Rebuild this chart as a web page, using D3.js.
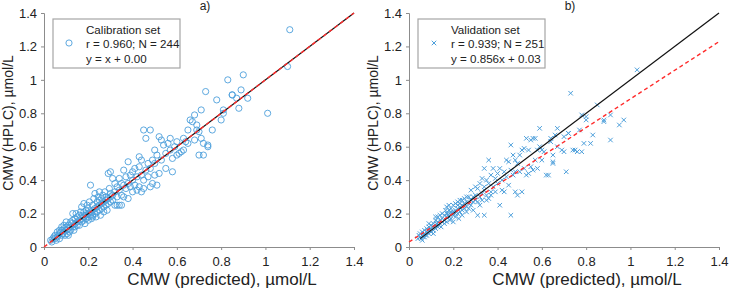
<!DOCTYPE html>
<html>
<head>
<meta charset="utf-8">
<script src="https://cdn.jsdelivr.net/npm/d3@7"></script>
<style>
  body { margin: 0; background: #fff; }
  svg { display: block; font-family: "Liberation Sans", Arial, sans-serif; }
</style>
</head>
<body>
<div id="chart"></div>
<script>
var WD = 730, HT = 291

// calibration set (predicted, HPLC)
var calibration = [
  [0.03,0.04],[0.035,0.03],[0.04,0.05],[0.045,0.06],[0.05,0.05],[0.05,0.07],[0.055,0.04],[0.06,0.06],[0.06,0.09],[0.065,0.07],
  [0.07,0.08],[0.07,0.05],[0.075,0.09],[0.08,0.07],[0.08,0.10],[0.085,0.08],[0.09,0.11],[0.09,0.09],[0.095,0.07],[0.10,0.12],
  [0.10,0.10],[0.10,0.15],[0.105,0.08],[0.11,0.11],[0.11,0.13],[0.115,0.09],[0.12,0.12],[0.12,0.15],[0.12,0.10],[0.125,0.14],
  [0.13,0.12],[0.13,0.16],[0.13,0.20],[0.135,0.10],[0.14,0.14],[0.14,0.17],[0.14,0.12],[0.145,0.20],[0.15,0.15],[0.15,0.13],
  [0.15,0.18],[0.08,0.12],[0.07,0.10],[0.11,0.07],[0.09,0.13],
  [0.16,0.16],[0.16,0.19],[0.16,0.13],[0.165,0.21],[0.17,0.17],[0.17,0.15],[0.17,0.24],[0.175,0.19],[0.18,0.18],[0.18,0.21],
  [0.18,0.16],[0.18,0.26],[0.185,0.14],[0.19,0.19],[0.19,0.22],[0.19,0.17],[0.195,0.25],[0.20,0.20],[0.20,0.18],[0.20,0.23],
  [0.20,0.16],[0.205,0.27],[0.21,0.21],[0.21,0.19],[0.21,0.37],[0.215,0.17],[0.22,0.22],[0.22,0.19],[0.22,0.25],[0.22,0.18],
  [0.225,0.29],[0.23,0.23],[0.23,0.20],[0.23,0.32],[0.235,0.18],[0.24,0.24],[0.24,0.21],[0.24,0.27],[0.245,0.30],[0.25,0.25],
  [0.25,0.22],[0.25,0.33],[0.255,0.19],[0.26,0.26],[0.26,0.23],[0.26,0.29],[0.265,0.31],[0.27,0.27],[0.27,0.24],[0.27,0.21],
  [0.275,0.33],[0.28,0.28],[0.28,0.25],[0.28,0.30],[0.285,0.22],[0.29,0.29],[0.29,0.26],[0.29,0.44],[0.295,0.35],[0.30,0.30],
  [0.30,0.27],[0.30,0.45],[0.30,0.32],[0.25,0.28],[0.19,0.20],
  [0.31,0.31],[0.31,0.28],[0.31,0.41],[0.32,0.33],[0.32,0.25],[0.32,0.38],[0.33,0.30],[0.33,0.25],[0.33,0.36],[0.34,0.34],
  [0.34,0.25],[0.34,0.41],[0.35,0.25],[0.35,0.38],[0.35,0.31],[0.36,0.37],[0.36,0.30],[0.36,0.46],[0.37,0.35],[0.37,0.42],
  [0.38,0.29],[0.38,0.38],[0.38,0.51],[0.39,0.36],[0.39,0.43],[0.40,0.33],[0.40,0.40],[0.40,0.45],[0.41,0.37],[0.41,0.47],
  [0.42,0.34],[0.42,0.42],[0.43,0.36],[0.43,0.48],[0.43,0.54],[0.44,0.33],[0.44,0.43],[0.44,0.52],[0.45,0.70],[0.45,0.40],
  [0.45,0.35],[0.46,0.46],[0.46,0.65],[0.47,0.42],[0.47,0.50],[0.48,0.70],[0.48,0.36],[0.48,0.47],[0.49,0.52],[0.49,0.38],
  [0.50,0.50],[0.50,0.43],[0.50,0.58],[0.51,0.37],[0.51,0.55],[0.52,0.66],[0.52,0.44],[0.53,0.52],[0.53,0.64],[0.54,0.61],
  [0.55,0.47],[0.55,0.56],[0.56,0.62],[0.57,0.65],[0.57,0.58],[0.58,0.45],[0.58,0.53],[0.59,0.60],[0.60,0.63],[0.60,0.55],
  [0.61,0.56],[0.62,0.57],[0.63,0.58],[0.63,0.65],[0.64,0.63],[0.65,0.70],[0.65,0.62],[0.66,0.76],[0.67,0.75],[0.68,0.79],
  [0.68,0.64],[0.69,0.70],[0.69,0.73],[0.70,0.55],[0.70,0.69],[0.71,0.65],[0.71,0.82],[0.72,0.55],[0.72,0.62],[0.73,0.93],
  [0.74,0.60],[0.74,0.61],[0.76,0.70],[0.78,0.88],[0.80,0.76],[0.81,0.80],[0.81,0.82],[0.83,1.00],[0.85,0.91],[0.85,0.91],
  [0.87,0.89],[0.88,0.83],[0.89,0.94],[0.90,1.03],[0.92,0.89],[1.01,0.80],[1.10,1.08],[1.11,1.30]
]

// validation set (predicted, HPLC)
var validation = [
  [0.04,0.05],[0.045,0.07],[0.05,0.06],[0.05,0.08],[0.055,0.05],[0.06,0.07],[0.06,0.09],[0.065,0.06],[0.07,0.08],[0.07,0.10],
  [0.075,0.07],[0.08,0.09],[0.08,0.11],[0.08,0.07],[0.085,0.10],[0.09,0.08],[0.09,0.12],[0.095,0.10],[0.10,0.11],[0.10,0.09],
  [0.10,0.13],[0.105,0.12],[0.11,0.10],[0.11,0.14],[0.115,0.12],[0.12,0.13],[0.12,0.11],[0.12,0.16],[0.125,0.14],[0.13,0.12],
  [0.13,0.15],[0.13,0.18],[0.135,0.13],[0.14,0.16],[0.14,0.14],[0.14,0.19],[0.145,0.12],[0.15,0.17],[0.15,0.15],[0.15,0.20],
  [0.06,0.04],[0.09,0.14],[0.11,0.08],[0.07,0.06],[0.12,0.18],
  [0.16,0.16],[0.16,0.19],[0.16,0.14],[0.165,0.22],[0.17,0.18],[0.17,0.15],[0.17,0.24],[0.175,0.20],[0.18,0.18],[0.18,0.22],
  [0.18,0.25],[0.185,0.16],[0.19,0.20],[0.19,0.23],[0.19,0.17],[0.20,0.21],[0.20,0.19],[0.20,0.25],[0.20,0.15],[0.21,0.22],
  [0.21,0.18],[0.21,0.26],[0.22,0.23],[0.22,0.20],[0.22,0.27],[0.225,0.17],[0.23,0.24],[0.23,0.21],[0.23,0.28],[0.24,0.25],
  [0.24,0.22],[0.24,0.19],[0.25,0.26],[0.25,0.23],[0.25,0.29],[0.26,0.27],[0.26,0.24],[0.26,0.21],[0.27,0.30],[0.27,0.26],
  [0.27,0.23],[0.28,0.28],[0.28,0.25],[0.28,0.34],[0.29,0.30],[0.29,0.27],[0.29,0.22],[0.30,0.31],[0.30,0.28],[0.30,0.36],
  [0.21,0.20],[0.23,0.26],[0.26,0.30],[0.19,0.21],[0.17,0.20],[0.22,0.25],[0.24,0.28],
  [0.31,0.35],[0.31,0.27],[0.31,0.19],[0.32,0.38],[0.32,0.30],[0.32,0.25],[0.33,0.41],[0.33,0.32],[0.33,0.28],[0.34,0.47],
  [0.34,0.36],[0.34,0.19],[0.34,0.34],[0.35,0.40],[0.35,0.31],[0.35,0.28],[0.36,0.52],[0.36,0.38],[0.36,0.29],[0.37,0.43],
  [0.37,0.33],[0.37,0.31],[0.38,0.47],[0.38,0.36],[0.39,0.41],[0.39,0.33],[0.40,0.44],[0.40,0.38],[0.41,0.25],[0.41,0.47],
  [0.42,0.40],[0.42,0.34],[0.43,0.45],[0.43,0.33],[0.44,0.52],[0.44,0.42],[0.45,0.51],[0.45,0.37],[0.46,0.19],[0.46,0.46],
  [0.46,0.61],[0.47,0.43],[0.47,0.55],[0.48,0.52],[0.48,0.33],[0.48,0.45],[0.49,0.31],[0.49,0.50],[0.50,0.55],[0.50,0.45],
  [0.51,0.58],[0.51,0.33],[0.52,0.47],[0.52,0.59],[0.53,0.43],[0.53,0.65],[0.54,0.58],[0.54,0.44],[0.55,0.48],[0.55,0.64],
  [0.56,0.65],[0.56,0.46],[0.57,0.65],[0.57,0.52],[0.58,0.47],[0.58,0.58],[0.59,0.71],[0.59,0.60],[0.60,0.58],[0.60,0.52],
  [0.61,0.57],[0.62,0.43],[0.63,0.43],[0.64,0.65],[0.64,0.63],[0.65,0.55],[0.65,0.51],[0.65,0.50],[0.66,0.67],[0.67,0.71],
  [0.67,0.60],[0.69,0.58],[0.70,0.57],[0.70,0.66],[0.71,0.45],[0.72,0.68],[0.72,0.68],[0.73,0.92],[0.74,0.58],[0.75,0.58],
  [0.76,0.57],[0.77,0.70],[0.78,0.79],[0.78,0.57],[0.79,0.62],[0.80,0.76],[0.80,0.78],[0.82,0.62],[0.83,0.67],[0.85,0.85],
  [0.88,0.75],[0.88,0.76],[0.91,0.64],[0.91,0.79],[0.95,0.73],[0.97,0.76],[1.03,1.06]
]

var tickValues = [0, 0.2, 0.4, 0.6, 0.8, 1, 1.2, 1.4]
var tickLabels = ["0", "0.2", "0.4", "0.6", "0.8", "1", "1.2", "1.4"]

// fitted lines: slope, intercept
var calFit = [1.0, 0.00]
var valFit = [0.856, 0.03]
// y = x reference line drawn over the data range
var calIdentity = [0.03, 1.4]
var valIdentity = [0.05, 1.4]

var panels = [
  { left: 44, tag: "a)", title: "Calibration set", stats: "r = 0.960; N = 244", eq: "y = x + 0.00",
    data: calibration, fit: calFit, identity: calIdentity, marker: "circle" },
  { left: 409, tag: "b)", title: "Validation set", stats: "r = 0.939; N = 251", eq: "y = 0.856x + 0.03",
    data: validation, fit: valFit, identity: valIdentity, marker: "cross" }
]

var plotW = 310, plotTop = 13, plotH = 234
var blue = "#4d9fdb"

var svg = d3.select("#chart").append("svg")
  .attr("width", WD)
  .attr("height", HT)

panels.forEach(function(p) {
  var x = d3.scaleLinear().domain([0, 1.4]).range([0, plotW])
  var y = d3.scaleLinear().domain([0, 1.4]).range([plotH, 0])

  var g = svg.append("g").attr("transform", "translate(" + p.left + "," + plotTop + ")")

  // axes
  var xAxis = d3.axisBottom(x).tickValues(tickValues)
    .tickFormat(function(d, i) { return tickLabels[i]; }).tickSize(3).tickPadding(7)
  var yAxis = d3.axisLeft(y).tickValues(tickValues)
    .tickFormat(function(d, i) { return tickLabels[i]; }).tickSize(3).tickPadding(4)

  var gx = g.append("g").attr("transform", "translate(0," + plotH + ")").call(xAxis)
  var gy = g.append("g").call(yAxis)
  ;[gx, gy].forEach(function(a) {
    a.select(".domain").attr("stroke", "#8c8c8c")
    a.selectAll(".tick line").attr("stroke", "#8c8c8c")
    a.selectAll(".tick text").attr("fill", "#222").style("font-size", "13px")
      .style("font-family", "'Liberation Sans', Arial, sans-serif")
  })

  // points
  var pts = g.append("g")
  if (p.marker == "circle") {
    pts.selectAll("circle").data(p.data).enter().append("circle")
      .attr("cx", function(d) { return x(d[0]); })
      .attr("cy", function(d) { return y(d[1]); })
      .attr("r", 3.1)
      .attr("fill", "none")
      .attr("stroke", blue)
      .attr("stroke-width", 0.9)
  } else {
    pts.selectAll("path").data(p.data).enter().append("path")
      .attr("d", d3.symbol(d3.symbolX, 15))
      .attr("transform", function(d) { return "translate(" + x(d[0]) + "," + y(d[1]) + ")"; })
      .attr("fill", "none")
      .attr("stroke", blue)
      .attr("stroke-width", 1)
  }

  // y = x line
  var line = d3.line().x(function(d) { return x(d[0]); }).y(function(d) { return y(d[1]); })
  g.append("path")
    .attr("d", line(p.identity.map(function(v) { return [v, v]; })))
    .attr("stroke", "#111")
    .attr("stroke-width", 1.2)
    .attr("fill", "none")

  // regression line
  g.append("path")
    .attr("d", line([0, 1.4].map(function(v) { return [v, p.fit[0] * v + p.fit[1]]; })))
    .attr("stroke", "#ff2b2b")
    .attr("stroke-width", 1.4)
    .attr("stroke-dasharray", "4,3")
    .attr("fill", "none")

  // legend
  var lg = g.append("g").attr("transform", "translate(9,6)")
  lg.append("rect").attr("width", 127).attr("height", 49)
    .attr("fill", "#fff").attr("stroke", "#a6a6a6").attr("stroke-width", 1.2)
  if (p.marker == "circle") {
    lg.append("circle").attr("cx", 16).attr("cy", 24).attr("r", 3.1)
      .attr("fill", "none").attr("stroke", blue).attr("stroke-width", 0.9)
  } else {
    lg.append("path").attr("d", d3.symbol(d3.symbolX, 15))
      .attr("transform", "translate(16,24)")
      .attr("fill", "none").attr("stroke", blue).attr("stroke-width", 1)
  }
  ;[p.title, p.stats, p.eq].forEach(function(t, i) {
    lg.append("text").attr("x", 33).attr("y", 15 + i * 14.3)
      .style("font-size", "11.6px").attr("fill", "#222").text(t)
  })

  // panel tag
  g.append("text").attr("x", 161).attr("y", -3)
    .attr("text-anchor", "middle").style("font-size", "12px").attr("fill", "#222").text(p.tag)

  // axis titles
  g.append("text").attr("x", 178).attr("y", plotH + 38)
    .attr("text-anchor", "middle").style("font-size", "17px").attr("fill", "#222")
    .text("CMW (predicted), µmol/L")
  g.append("text").attr("transform", "translate(" + (-31) + "," + (plotH / 2 - 7) + ") rotate(-90)")
    .attr("text-anchor", "middle").style("font-size", "14px").attr("fill", "#222")
    .text("CMW (HPLC), µmol/L")
})
</script>
</body>
</html>
